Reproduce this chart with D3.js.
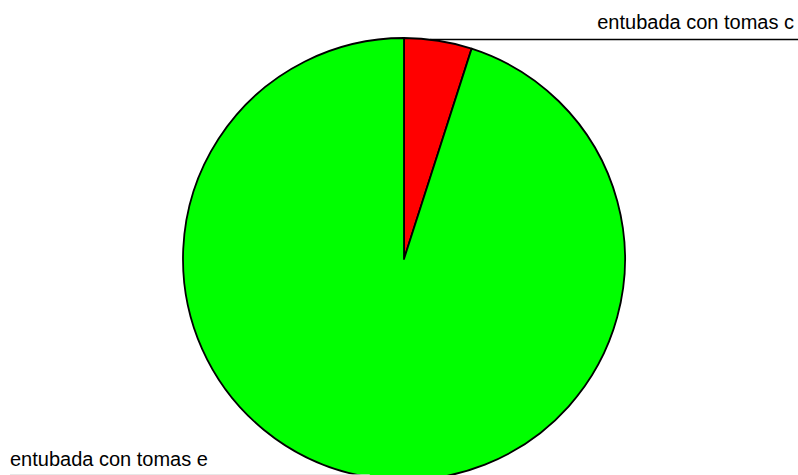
<!DOCTYPE html>
<html><head><meta charset="utf-8">
<script src="https://cdn.jsdelivr.net/npm/d3@7"></script>
<style>html,body{margin:0;padding:0;background:#fff;overflow:hidden}</style>
</head><body>
<svg id="c" width="798" height="475"></svg>
<script>
const categories = ["entubada con tomas c", "entubada con tomas e"];
const values = [4.95, 95.05];
const colors = ["#ff0000", "#00ff00"];

const svg = d3.select("#c");
const cx = 404, cy = 259, r = 221;
const g = svg.append("g").attr("transform", `translate(${cx},${cy})`);
const pie = d3.pie().sort(null)(values);
const arc = d3.arc().innerRadius(0).outerRadius(r);
g.selectAll("path").data(pie).join("path")
  .attr("d", arc)
  .attr("fill", (d, i) => colors[i])
  .attr("stroke", "#000").attr("stroke-width", 1.8)
  .attr("stroke-linejoin", "round");

const font = "'Liberation Sans', Arial, sans-serif";
// top-right label
const mid0 = (pie[0].startAngle + pie[0].endAngle) / 2;
const p0 = [cx + r * Math.sin(mid0), cy - r * Math.cos(mid0)];
svg.append("line").attr("x1", p0[0] - 8).attr("y1", 39.5).attr("x2", 798).attr("y2", 39.5)
  .attr("stroke", "#000").attr("stroke-width", 1.3);
svg.append("text").attr("x", 794).attr("y", 28.5).attr("text-anchor", "end")
  .attr("font-family", font).attr("font-size", 20).attr("fill", "#000").text(categories[0]);
// bottom-left label
const mid1 = (pie[1].startAngle + pie[1].endAngle) / 2;
const p1 = [cx + r * Math.sin(mid1), cy - r * Math.cos(mid1)];
svg.append("line").attr("x1", 10).attr("y1", 474.8).attr("x2", p1[0]).attr("y2", 474.8)
  .attr("stroke", "#ddd").attr("stroke-width", 1);
svg.append("text").attr("x", 10).attr("y", 466).attr("text-anchor", "start")
  .attr("font-family", font).attr("font-size", 20).attr("fill", "#000").text(categories[1]);
</script>
</body></html>
